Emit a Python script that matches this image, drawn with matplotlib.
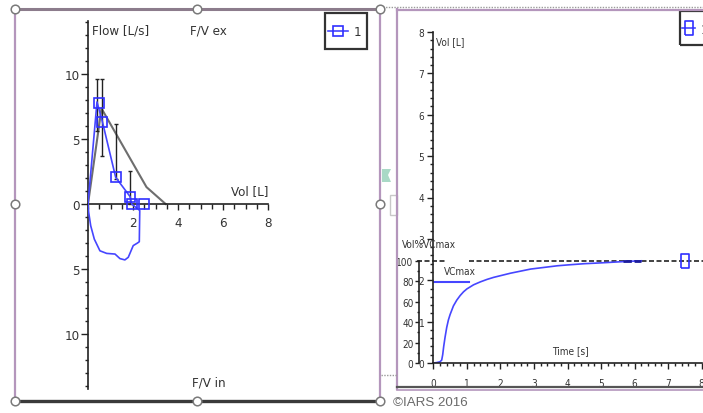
import matplotlib
matplotlib.use("Agg")
import matplotlib.pyplot as plt
from matplotlib import font_manager as fm
from matplotlib.lines import Line2D
from matplotlib.patches import Rectangle, Polygon
from matplotlib.ticker import MultipleLocator, FixedLocator, FuncFormatter

# ---------------- data ----------------
# Flow/volume loop (expiration positive, inspiration negative)
fv_vol = [0.00, 0.40, 0.64, 1.23, 1.87, 1.94, 2.30, 2.28, 2.20, 2.01, 1.79, 1.64, 1.42,
          1.20, 0.83, 0.53, 0.28, 0.12, 0.03, 0.00]
fv_flow = [0.00, 7.85, 6.33, 2.05, 0.57, 0.00, -0.50, -2.90, -3.00, -3.20, -4.10, -4.30,
           -4.20, -3.85, -3.80, -3.60, -2.70, -1.67, -0.64, 0.00]
meas_vol = [0.49, 0.64, 1.23, 1.87, 1.94, 2.50]
meas_flow = [7.75, 6.33, 2.05, 0.57, 0.00, 0.00]
pred_vol = [0.00, 0.60, 2.60, 3.45]
pred_flow = [0.00, 7.35, 1.30, 0.00]
err_vol = [0.42, 0.62, 1.23, 1.87]
err_low = [5.6, 3.7, 1.9, 0.0]
err_high = [9.6, 9.6, 6.15, 2.56]
flow_ticks = [-10, -5, 0, 5, 10]
fv_vol_ticks = [2, 4, 6, 8]

# Volume / time
vt_time = [0.00, 0.10, 0.20, 0.25, 0.28, 0.31, 0.35, 0.40, 0.45, 0.50, 0.60, 0.70, 0.80,
           0.90, 1.00, 1.20, 1.40, 1.60, 1.80, 2.00, 2.30, 2.60, 2.90, 3.30, 3.70, 4.00,
           4.50, 5.00, 5.65, 6.20]
vt_vol = [0.00, 0.01, 0.03, 0.07, 0.20, 0.40, 0.62, 0.86, 1.04, 1.17, 1.38, 1.52, 1.63,
          1.72, 1.79, 1.89, 1.96, 2.02, 2.07, 2.11, 2.17, 2.22, 2.27, 2.31, 2.35, 2.37,
          2.40, 2.42, 2.45, 2.47]
vc_max = 2.47
vc_pred = 1.95
vc_pred_t = [0.03, 1.05]
end_t = [5.65, 6.2]
marker_t = [7.5]
marker_pct = [100]
pct_ticks = [0, 20, 40, 60, 80, 100]
time_ticks = [0, 1, 2, 3, 4, 5, 6, 7, 8]
vt_vol_ticks = [0, 1, 2, 3, 4, 5, 6, 7, 8]

# ---------------- fonts ----------------
_tt = fm.fontManager.ttflist
_names = {f.name for f in _tt}
_dvc = any(f.name == 'DejaVu Sans' and 'Condensed' in f.fname for f in _tt)
if 'Liberation Sans Narrow' in _names:
    plt.rcParams['font.family'] = ['Liberation Sans Narrow']
    FS_L, FS_R = 10.5, 8.5
elif _dvc:
    plt.rcParams['font.family'] = ['DejaVu Sans']
    plt.rcParams['font.stretch'] = 'condensed'
    FS_L, FS_R = 9.5, 7.2
else:
    plt.rcParams['font.family'] = ['Liberation Sans']
    FS_L, FS_R = 9.5, 7.5

TXT = '#333333'
BLUE = '#4646ff'
MBLUE = '#3030ff'

W, H = 703, 414
fig = plt.figure(figsize=(W / 100, H / 100), dpi=100)
fig.patch.set_facecolor('white')


def fx(px):
    return px / W


def fy(py):
    return 1 - py / H


def box(x0, y0, x1, y1):
    return [x0 / W, 1 - y1 / H, (x1 - x0) / W, (y1 - y0) / H]


def fline(xs, ys, **kw):
    fig.add_artist(Line2D([fx(x) for x in xs], [fy(y) for y in ys],
                          transform=fig.transFigure, **kw))


def ftext(x, y, s, **kw):
    kw.setdefault('va', 'center')
    kw.setdefault('color', TXT)
    fig.text(fx(x), fy(y), s, **kw)


# ---------------- left panel: flow / volume ----------------
ax1 = fig.add_axes(box(88, 22, 268, 390))
ax1.patch.set_alpha(0)
ax1.set_xlim(0, 8)
ax1.set_ylim(-(390 - 205) / 13, (205 - 22) / 13)
for s in ('top', 'right'):
    ax1.spines[s].set_visible(False)
ax1.spines['left'].set_position(('data', 0))
ax1.spines['bottom'].set_position(('data', 0))
for s in ('left', 'bottom'):
    ax1.spines[s].set_color('#222222')
    ax1.spines[s].set_linewidth(1.2)
ax1.yaxis.set_major_locator(FixedLocator(flow_ticks))
ax1.yaxis.set_major_formatter(FuncFormatter(lambda v, p: f"{abs(int(round(v)))}"))
ax1.yaxis.set_minor_locator(MultipleLocator(1))
ax1.xaxis.set_major_locator(FixedLocator(fv_vol_ticks))
ax1.xaxis.set_minor_locator(MultipleLocator(0.5))
ax1.tick_params(axis='y', which='major', direction='out', length=5, width=1, pad=1,
                labelsize=FS_L, colors='#222222', labelcolor=TXT)
ax1.tick_params(axis='y', which='minor', direction='out', length=2.5, width=1,
                colors='#222222')
ax1.tick_params(axis='x', which='major', direction='out', length=4.5, width=1, pad=4,
                labelsize=FS_L, colors='#222222', labelcolor=TXT)
ax1.tick_params(axis='x', which='minor', direction='out', length=3.5, width=1,
                colors='#222222')

ax1.plot(pred_vol, pred_flow, color='#6e6e6e', lw=1.5, zorder=2)
mid = [(a + b) / 2 for a, b in zip(err_low, err_high)]
half = [(b - a) / 2 for a, b in zip(err_low, err_high)]
ax1.errorbar(err_vol, mid, yerr=half, fmt='none', ecolor='#222222', elinewidth=1,
             capsize=1.6, capthick=1, zorder=3)
ax1.plot(fv_vol, fv_flow, color=BLUE, lw=1.2, zorder=4)
ax1.plot(meas_vol, meas_flow, ls='none', marker='s', ms=7, mfc='none', mec=MBLUE,
         mew=1.2, zorder=5, clip_on=False)

ftext(92.5, 31.5, 'Flow [L/s]', ha='left', fontsize=FS_L)
ftext(190, 31.5, 'F/V ex', ha='left', fontsize=FS_L)
ftext(268, 192, 'Vol [L]', ha='right', fontsize=FS_L)
ftext(192, 383, 'F/V in', ha='left', fontsize=FS_L)

# left legend
fig.add_artist(Rectangle((fx(325), fy(50)), (366.7 - 325) / W, (50 - 14) / H,
                         transform=fig.transFigure, fill=False, ec='#333333', lw=1.6))
fline([328.3, 348.3], [32.3, 32.3], color=BLUE, lw=1.2)
fline([338.3], [32.3], ls='none', marker='s', ms=7, mfc='none', mec=MBLUE, mew=1.2)
ftext(354, 33, '1', ha='left', fontsize=FS_L)

# ---------------- right panel: volume / time ----------------
ax2 = fig.add_axes(box(433.3, 33, 701.7, 364))
ax2.patch.set_alpha(0)
ax2.set_xlim(0, 8)
ax2.set_ylim(0, 8)
for s in ('top', 'right'):
    ax2.spines[s].set_visible(False)
for s in ('left', 'bottom'):
    ax2.spines[s].set_color('#222222')
    ax2.spines[s].set_linewidth(1.2)
ax2.xaxis.set_major_locator(FixedLocator(time_ticks))
ax2.xaxis.set_minor_locator(MultipleLocator(0.2))
ax2.yaxis.set_major_locator(FixedLocator(vt_vol_ticks))
ax2.yaxis.set_minor_locator(MultipleLocator(0.2))
ax2.tick_params(axis='both', which='major', direction='out', length=4.5, width=1,
                pad=2, labelsize=FS_R, colors='#222222', labelcolor=TXT)
ax2.tick_params(axis='both', which='minor', direction='out', length=2.5, width=1,
                colors='#222222')
ax2.tick_params(axis='x', which='major', pad=6)

ax2.plot([-0.49, 0.35], [vc_max, vc_max], color='#222222', lw=1.2, ls=(0, (3, 1.5)),
         clip_on=False)
ax2.plot([1.05, 8.1], [vc_max, vc_max], color='#222222', lw=1.2, ls=(0, (3, 1.5)),
         clip_on=False)
ax2.plot(vc_pred_t, [vc_pred, vc_pred], color=BLUE, lw=1.5)
ax2.plot(vt_time, vt_vol, color=BLUE, lw=1.2)
ax2.plot(end_t, [vc_max, vc_max], color='#1c1c9c', lw=2, ls=(0, (3, 1)))
rect_marker = [(-0.6, -1), (0.6, -1), (0.6, 1), (-0.6, 1), (-0.6, -1)]
ax2.plot(marker_t, [vc_max * p / 100 for p in marker_pct], ls='none',
         marker=rect_marker, ms=10, mfc='none', mec=MBLUE, mew=1.2)

ax3 = fig.add_axes(box(419, 33, 433.3, 364))
ax3.patch.set_alpha(0)
ax3.set_ylim(0, 800 / vc_max)
for s in ('top', 'right', 'bottom'):
    ax3.spines[s].set_visible(False)
ax3.spines['left'].set_bounds(0, 100)
ax3.spines['left'].set_color('#222222')
ax3.spines['left'].set_linewidth(1.2)
ax3.set_xticks([])
ax3.yaxis.set_major_locator(FixedLocator(pct_ticks))
ax3.yaxis.set_minor_locator(FixedLocator([10, 30, 50, 70, 90]))
ax3.tick_params(axis='y', which='major', direction='out', length=3, width=1, pad=1,
                labelsize=FS_R, colors='#222222', labelcolor=TXT)
ax3.tick_params(axis='y', which='minor', direction='out', length=1.5, width=1,
                colors='#222222')

ftext(436.5, 42.5, 'Vol [L]', ha='left', fontsize=FS_R)
ftext(401.5, 245, 'Vol%VCmax', ha='left', fontsize=FS_R)
ftext(444, 272, 'VCmax', ha='left', fontsize=FS_R)
ftext(552.5, 351.5, 'Time [s]', ha='left', fontsize=FS_R)

# right legend (cut off by the window)
fig.add_artist(Rectangle((fx(680), fy(45.7)), 40 / W, (45.7 - 12.3) / H,
                         transform=fig.transFigure, fill=False, ec='#333333', lw=1.6))
fline([681.7, 695], [29.3, 29.3], color=BLUE, lw=1.2)
fline([689.3], [29.3], ls='none', marker=rect_marker, ms=10, mfc='none', mec=MBLUE,
      mew=1.2)
ftext(700.5, 30, '1', ha='left', fontsize=FS_L)

# ---------------- window decorations ----------------
PURPLE = '#b496bc'
FRAME = '#8c7c8c'
# left frame
fline([15, 380], [10, 10], color=FRAME, lw=2.2)
fline([15, 15], [10, 402], color=PURPLE, lw=1.6)
fline([380, 380], [10, 402], color=PURPLE, lw=1.6)
fline([15, 380], [402, 402], color='#3a3a3a', lw=2.4)
# right frame
fline([380, 703], [7.5, 7.5], color='#9a9a9a', lw=1, ls=(0, (1, 1)))
fline([397, 703], [10.5, 10.5], color=PURPLE, lw=1.6)
fline([397, 397], [10, 390], color=PURPLE, lw=1.6)
fline([397, 703], [388, 388], color='#555555', lw=1.6)
fline([397, 703], [390.5, 390.5], color=PURPLE, lw=1.2)
fline([381, 397], [376, 376], color='#9a9a9a', lw=1, ls=(0, (1, 1)))
# small artifacts between panels
fig.add_artist(Polygon([(fx(382), fy(170)), (fx(391), fy(170)), (fx(388), fy(176)),
                        (fx(391), fy(183)), (fx(382), fy(183))],
                       closed=True, transform=fig.transFigure, fc='#a9d9c6', ec='none'))
fig.add_artist(Rectangle((fx(390), fy(216)), 7 / W, 20 / H, transform=fig.transFigure,
                         fill=False, ec='#c8c8c8', lw=1))
# selection handles
for (hx, hy) in [(15, 10), (197.5, 10), (380, 10), (15, 205), (380, 205),
                 (15, 402), (197.5, 402), (380, 402)]:
    fline([hx], [hy], ls='none', marker='o', ms=6.2, mfc='white', mec='#7a7a7a', mew=1.1)

fig.text(fx(393), fy(403), '\u00a9IARS 2016', ha='left', va='center', color='#6a6a6a',
         fontsize=9.6, family='Liberation Sans', stretch='normal')

fig.savefig('out.png', dpi=100, facecolor='white')
